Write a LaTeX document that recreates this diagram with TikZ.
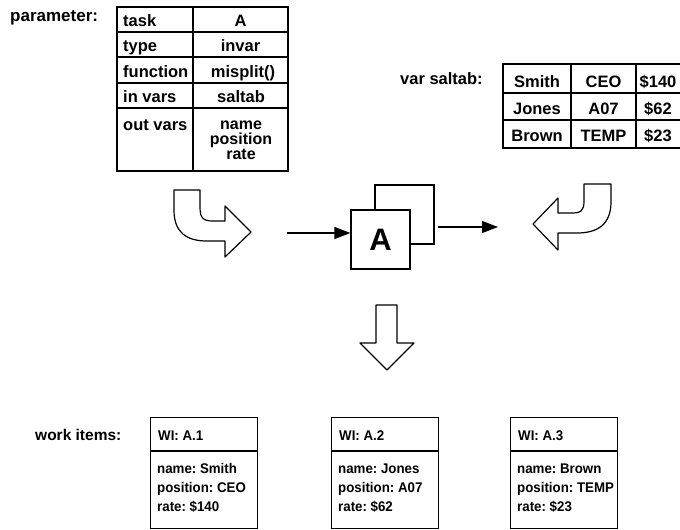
\documentclass[tikz,border=0pt]{standalone}
\usepackage{fontspec}
\setmainfont{Liberation Sans}
\newfontfamily\wifont[FakeStretch=0.95]{Liberation Sans}
\usetikzlibrary{arrows.meta}
\begin{document}
\frenchspacing
\begin{tikzpicture}[x=1pt,y=-1pt,
  frame/.style={draw, line width=1.2pt},
  big/.style={font=\fontsize{16.5}{14.5}\selectfont\bfseries, inner sep=0pt},
  small/.style={font=\wifont\fontsize{14}{14}\selectfont\bfseries, inner sep=0pt},
  flow/.style={line width=1.2pt, -{Triangle[length=16pt,width=12pt]}},
  blockarrow/.style={draw, line width=1.2pt, fill=white, line join=round},
  wibox/.style={frame, minimum width=107pt, minimum height=111pt, inner sep=0pt, anchor=north west}]
\useasboundingbox (0,0) rectangle (680,530);
\clip (0,0) rectangle (680,530);

% ---- task parameter table ----
\node[big, font=\fontsize{17}{17}\selectfont\bfseries, anchor=base west] (plabel) at (10,21.5) {parameter:};
\draw[frame] (117,7) rectangle (288,171);
\draw[frame] (193,7) -- (193,171);
\foreach \y in {32,57,83,108} \draw[frame] (117,\y) -- (288,\y);
\node[big, anchor=base west] (ktask) at (123,26) {task};
\node[big, anchor=base west] (ktype) at (123,51.5) {type};
\node[big, anchor=base west] (kfunc) at (123,77.5) {function};
\node[big, anchor=base west] (kin)   at (123,102.5) {in vars};
\node[big, anchor=base west] (kout)  at (123,130.5) {out vars};
\node[big, anchor=base] (vtask) at (240.5,26.5) {A};
\node[big, anchor=base] (vtype) at (240.5,51.5) {invar};
\node[big, anchor=base] (vfunc) at (243,77.5) {misplit()};
\node[big, anchor=base] (vin)   at (241,102.5) {saltab};
% three output variables stacked, baseline on the last line
\node[big, font=\fontsize{16}{15}\selectfont\bfseries, anchor=base] (vout) at (241,159.5)
  {\vbox{\baselineskip=15pt\halign{\hfil#\hfil\cr name\cr position\cr rate\cr}}};

% ---- input variable table ----
\node[big, anchor=base west] (slabel) at (400,84) {var saltab:};
\draw[frame] (503,64) rectangle (684,148);
\draw[frame] (571,64) -- (571,148);
\draw[frame] (636,64) -- (636,148);
\draw[frame] (503,93) -- (684,93);
\draw[frame] (503,120) -- (684,120);
\node[big, anchor=base] (s11) at (537,87) {Smith};
\node[big, anchor=base] (s12) at (603.5,87) {CEO};
\node[big, anchor=base] (s13) at (658,87) {\$140};
\node[big, anchor=base] (s21) at (537,114) {Jones};
\node[big, anchor=base] (s22) at (603.5,114) {A07};
\node[big, anchor=base] (s23) at (658,114) {\$62};
\node[big, anchor=base] (s31) at (537,141) {Brown};
\node[big, anchor=base] (s32) at (603.5,141) {TEMP};
\node[big, anchor=base] (s33) at (658,141) {\$23};

% ---- bent block arrows feeding the task ----
\draw[blockarrow] (174,190) -- (200,190) -- (200,207)
  .. controls (200,218) and (203,221) .. (213,221) -- (225,221) -- (225,206)
  -- (251,232) -- (225,257) -- (225,241) -- (207,241)
  .. controls (186,241) and (174,232) .. (174,210) -- cycle;
\draw[blockarrow] (611,184) -- (584,184) -- (584,201)
  .. controls (584,211) and (581,213) .. (571,213) -- (558,213) -- (558,198)
  -- (533,224) -- (558,250) -- (558,233) -- (577,233)
  .. controls (598,233) and (611,224) .. (611,202) -- cycle;

% ---- task A with its stacked instance ----
\node[frame, fill=white, minimum width=59pt, minimum height=59pt, inner sep=0pt] (Aback) at (404.5,214.5) {};
\node[frame, fill=white, minimum width=59pt, minimum height=59pt, inner sep=0pt,
      font=\fontsize{31}{31}\selectfont\bfseries] (A) at (380.5,239.5) {A};
\coordinate (inStart) at (287,233);
\draw[flow] (inStart) -- (inStart -| A.west);
\coordinate (outEnd) at (498,227);
\draw[flow, shorten <=3pt] (Aback.east |- outEnd) -- (outEnd);

% ---- downward block arrow ----
\draw[blockarrow] (376,305) -- (397,305) -- (397,343) -- (414,343) -- (387,370)
  -- (360,343) -- (376,343) -- cycle;

% ---- resulting work items ----
\node[big, font=\fontsize{15.5}{15.5}\selectfont\bfseries, anchor=base west] (wlabel) at (35,440) {work items:};
\foreach \n/\x/\nm/\pos/\rt in {1/150/Smith/CEO/\$140, 2/331/Jones/A07/\$62, 3/510/Brown/TEMP/\$23} {
  \node[wibox] (wi\n) at (\x,417) {};
  \draw[frame] (wi\n.west |- 0,451) -- (wi\n.east |- 0,451);
  \node[small, anchor=base west] (wih\n) at (\x+8,440) {WI: A.\n};
  \node[small, anchor=base west] (win\n) at (\x+7,473) {name: \nm};
  \node[small, anchor=base west] (wip\n) at (\x+7,492) {position: \pos};
  \node[small, anchor=base west] (wir\n) at (\x+7,511) {rate: \rt};
}
\end{tikzpicture}
\end{document}
